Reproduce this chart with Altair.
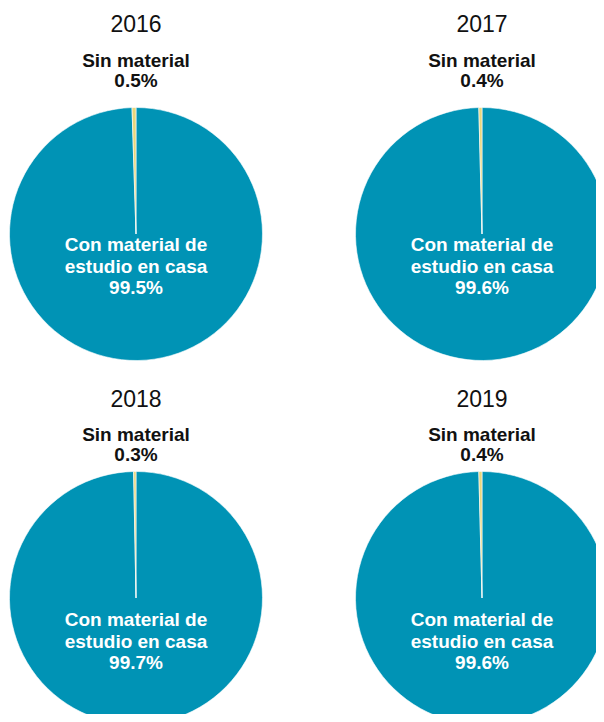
import altair as alt
import pandas as pd

years = ["2016", "2017", "2018", "2019"]
sin_material = [0.5, 0.4, 0.3, 0.4]
con_material = [99.5, 99.6, 99.7, 99.6]
categories = ["Con material de estudio en casa", "Sin material"]
colors = ["#0093b5", "#e8d67c"]

rows = []
for y, s, c in zip(years, sin_material, con_material):
    rows.append({"year": y, "cat": categories[0], "value": c, "ord": 0,
                 "label": f"Con material de\nestudio en casa\n{c}%"})
    rows.append({"year": y, "cat": categories[1], "value": s, "ord": 1,
                 "label": f"Sin material\n{s}%"})
df = pd.DataFrame(rows)

FONT = "Liberation Sans"
CX = 128
R = 126.5


def panel(year, width, height, year_y, sin_y, con_y, cy):
    base = alt.Chart(df).transform_filter(alt.datum.year == year)
    arc = base.mark_arc(outerRadius=R, stroke="white", strokeWidth=0.6, clip=True).encode(
        theta=alt.Theta("value:Q", stack=True),
        color=alt.Color("cat:N", scale=alt.Scale(domain=categories, range=colors), legend=None),
        order=alt.Order("ord:Q"),
        x=alt.value(CX),
        y=alt.value(cy),
    )
    sin_only = base.transform_filter(alt.datum.cat == categories[1])
    con_only = base.transform_filter(alt.datum.cat == categories[0])
    year_txt = sin_only.mark_text(font=FONT, fontSize=23, color="#111111",
                                  baseline="alphabetic", align="center").encode(
        text="year:N", x=alt.value(CX), y=alt.value(year_y))
    sin_txt = sin_only.mark_text(font=FONT, fontSize=19, fontWeight="bold", color="#111111",
                                 baseline="alphabetic", align="center",
                                 lineBreak="\n", lineHeight=20).encode(
        text="label:N", x=alt.value(CX), y=alt.value(sin_y))
    con_txt = con_only.mark_text(font=FONT, fontSize=19, fontWeight="bold", color="white",
                                 baseline="alphabetic", align="center",
                                 lineBreak="\n", lineHeight=21.5).encode(
        text="label:N", x=alt.value(CX), y=alt.value(con_y))
    return alt.layer(arc, year_txt, sin_txt, con_txt).properties(width=width, height=height)


row1 = alt.hconcat(panel("2016", 256, 364, 24, 59, 243, 226),
                   panel("2017", 242, 364, 24, 59, 243, 226), spacing=90)
row2 = alt.hconcat(panel("2018", 256, 342, 34.5, 69, 254, 226),
                   panel("2019", 242, 342, 34.5, 69, 254, 226), spacing=90)

chart = alt.vconcat(row1, row2, spacing=0).properties(padding=0).configure_view(stroke=None)

chart.save("out.html", embed_options={"renderer": "svg", "actions": False})
